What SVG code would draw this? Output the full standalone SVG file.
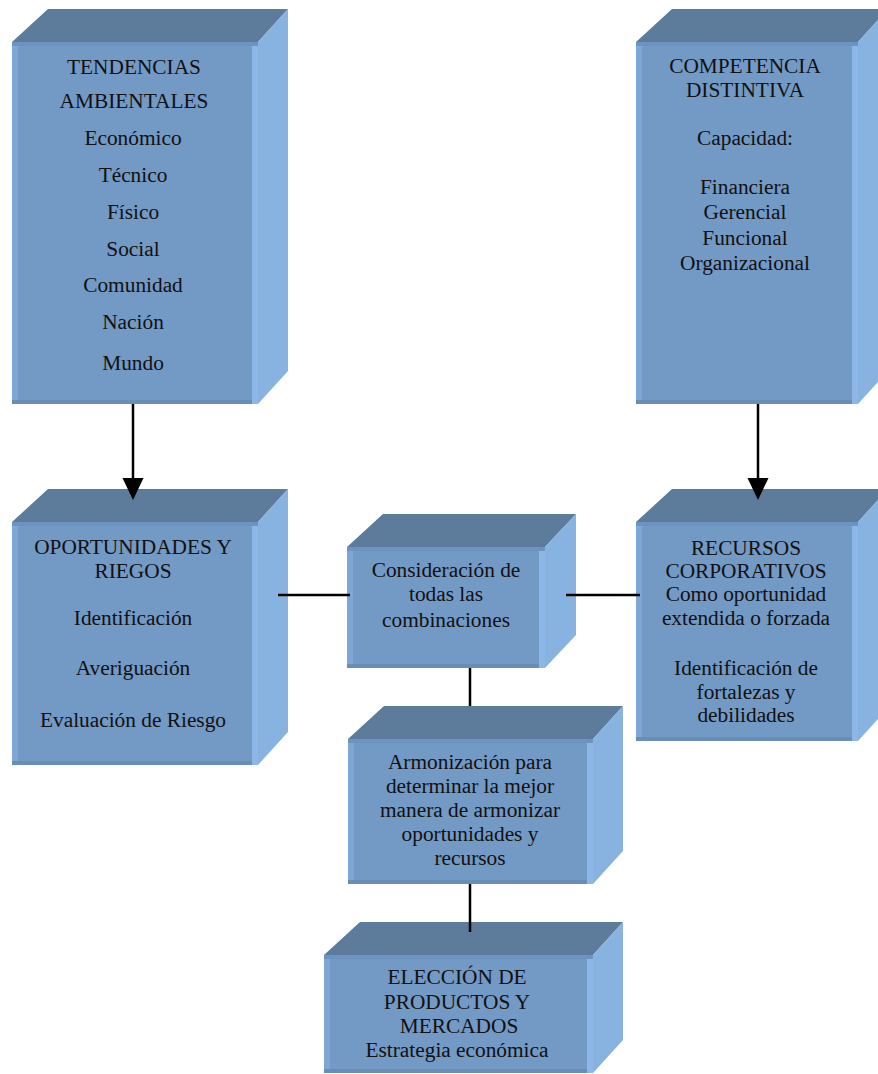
<svg xmlns="http://www.w3.org/2000/svg" width="878" height="1074" viewBox="0 0 878 1074">
<defs>
<style>
.top{fill:#5D7B9B}
.side{fill:#88B3E1}
.front{fill:#7399C5}
.fl{fill:#7DA7D7}
.fr{fill:#8CB7E7}
.ft{fill:#6D94C1}
.fb{fill:#6A8DB5}
.t{font-family:"Liberation Serif","Times New Roman",serif;font-size:21.33px;fill:#111;text-anchor:middle}
.c{stroke:#000;stroke-width:2.5;fill:none}
</style>
<marker id="ah" markerUnits="userSpaceOnUse" markerWidth="24" markerHeight="22" refX="12" refY="10.5" orient="auto" viewBox="0 0 24 22">
<path d="M0,0 L22,10.5 L0,21 z" fill="#000"/>
</marker>
</defs>
<rect width="878" height="1074" fill="#fff"/>

<g id="tendencias">
<polygon class="top" points="12,42 48,9 288,9 258,42"/>
<polygon class="side" points="258,42 288,9 288,371 258,404"/>
<rect class="front" x="12" y="42" width="246" height="362"/>
<rect class="fl" x="12" y="42" width="6" height="362"/>
<rect class="fr" x="252" y="42" width="6" height="362"/>
<rect class="ft" x="12" y="42" width="246" height="4"/>
<rect class="fb" x="12" y="400" width="240" height="4"/>
<text class="t" x="134" y="74">TENDENCIAS</text>
<text class="t" x="134" y="108">AMBIENTALES</text>
<text class="t" x="133" y="145">Económico</text>
<text class="t" x="133" y="182">Técnico</text>
<text class="t" x="133" y="219">Físico</text>
<text class="t" x="133" y="256">Social</text>
<text class="t" x="133" y="292">Comunidad</text>
<text class="t" x="133" y="329">Nación</text>
<text class="t" x="133" y="370">Mundo</text>
</g>

<g id="competencia">
<polygon class="top" points="636,42 672,9 888,9 858,42"/>
<polygon class="side" points="858,42 888,9 888,371 858,404"/>
<rect class="front" x="636" y="42" width="222" height="362"/>
<rect class="fl" x="636" y="42" width="6" height="362"/>
<rect class="fr" x="852" y="42" width="6" height="362"/>
<rect class="ft" x="636" y="42" width="222" height="4"/>
<rect class="fb" x="636" y="400" width="216" height="4"/>
<text class="t" x="745" y="73">COMPETENCIA</text>
<text class="t" x="745" y="97">DISTINTIVA</text>
<text class="t" x="745" y="145">Capacidad:</text>
<text class="t" x="745" y="194">Financiera</text>
<text class="t" x="745" y="219">Gerencial</text>
<text class="t" x="745" y="245">Funcional</text>
<text class="t" x="745" y="270">Organizacional</text>
</g>

<g id="oportunidades">
<polygon class="top" points="12,522 48,489 288,489 258,522"/>
<polygon class="side" points="258,522 288,489 288,732 258,765"/>
<rect class="front" x="12" y="522" width="246" height="243"/>
<rect class="fl" x="12" y="522" width="6" height="243"/>
<rect class="fr" x="252" y="522" width="6" height="243"/>
<rect class="ft" x="12" y="522" width="246" height="4"/>
<rect class="fb" x="12" y="761" width="240" height="4"/>
<text class="t" x="133" y="554">OPORTUNIDADES Y</text>
<text class="t" x="133" y="578">RIEGOS</text>
<text class="t" x="133" y="625">Identificación</text>
<text class="t" x="133" y="675">Averiguación</text>
<text class="t" x="133" y="727">Evaluación de Riesgo</text>
</g>

<g id="consideracion">
<polygon class="top" points="347,547 383,514 576,514 545,547"/>
<polygon class="side" points="545,547 576,514 576,635 545,668"/>
<rect class="front" x="347" y="547" width="198" height="121"/>
<rect class="fl" x="347" y="547" width="6" height="121"/>
<rect class="fr" x="539" y="547" width="6" height="121"/>
<rect class="ft" x="347" y="547" width="198" height="4"/>
<rect class="fb" x="347" y="664" width="192" height="4"/>
<text class="t" x="446" y="577">Consideración de</text>
<text class="t" x="446" y="601">todas las</text>
<text class="t" x="446" y="627">combinaciones</text>
</g>

<g id="recursos">
<polygon class="top" points="636,522 672,489 888,489 858,522"/>
<polygon class="side" points="858,522 888,489 888,708 858,741"/>
<rect class="front" x="636" y="522" width="222" height="219"/>
<rect class="fl" x="636" y="522" width="6" height="219"/>
<rect class="fr" x="852" y="522" width="6" height="219"/>
<rect class="ft" x="636" y="522" width="222" height="4"/>
<rect class="fb" x="636" y="737" width="216" height="4"/>
<text class="t" x="746" y="555">RECURSOS</text>
<text class="t" x="746" y="578">CORPORATIVOS</text>
<text class="t" x="746" y="601">Como oportunidad</text>
<text class="t" x="746" y="625">extendida o forzada</text>
<text class="t" x="746" y="675">Identificación de</text>
<text class="t" x="746" y="699">fortalezas y</text>
<text class="t" x="746" y="722">debilidades</text>
</g>

<g id="armonizacion">
<polygon class="top" points="348,739 384,706 623,706 593,739"/>
<polygon class="side" points="593,739 623,706 623,851 593,884"/>
<rect class="front" x="348" y="739" width="245" height="145"/>
<rect class="fl" x="348" y="739" width="6" height="145"/>
<rect class="fr" x="587" y="739" width="6" height="145"/>
<rect class="ft" x="348" y="739" width="245" height="4"/>
<rect class="fb" x="348" y="880" width="239" height="4"/>
<text class="t" x="470" y="769">Armonización para</text>
<text class="t" x="470" y="793">determinar la mejor</text>
<text class="t" x="470" y="817">manera de armonizar</text>
<text class="t" x="470" y="841">oportunidades y</text>
<text class="t" x="470" y="865">recursos</text>
</g>

<g id="eleccion">
<polygon class="top" points="324,955 360,922 623,922 593,955"/>
<polygon class="side" points="593,955 623,922 623,1040 593,1073"/>
<rect class="front" x="324" y="955" width="269" height="118"/>
<rect class="fl" x="324" y="955" width="6" height="118"/>
<rect class="fr" x="587" y="955" width="6" height="118"/>
<rect class="ft" x="324" y="955" width="269" height="4"/>
<rect class="fb" x="324" y="1069" width="263" height="4"/>
<text class="t" x="457" y="984">ELECCIÓN DE</text>
<text class="t" x="457" y="1009">PRODUCTOS Y</text>
<text class="t" x="459" y="1033">MERCADOS</text>
<text class="t" x="457" y="1057">Estrategia económica</text>
</g>

<g id="connectors">
<line class="c" x1="133" y1="404" x2="133" y2="490" marker-end="url(#ah)"/>
<line class="c" x1="758" y1="404" x2="758" y2="490" marker-end="url(#ah)"/>
<line class="c" x1="278" y1="595" x2="350" y2="595"/>
<line class="c" x1="566" y1="595" x2="640" y2="595"/>
<line class="c" x1="470" y1="668" x2="470" y2="706"/>
<line class="c" x1="470" y1="884" x2="470" y2="932"/>
</g>
</svg>
